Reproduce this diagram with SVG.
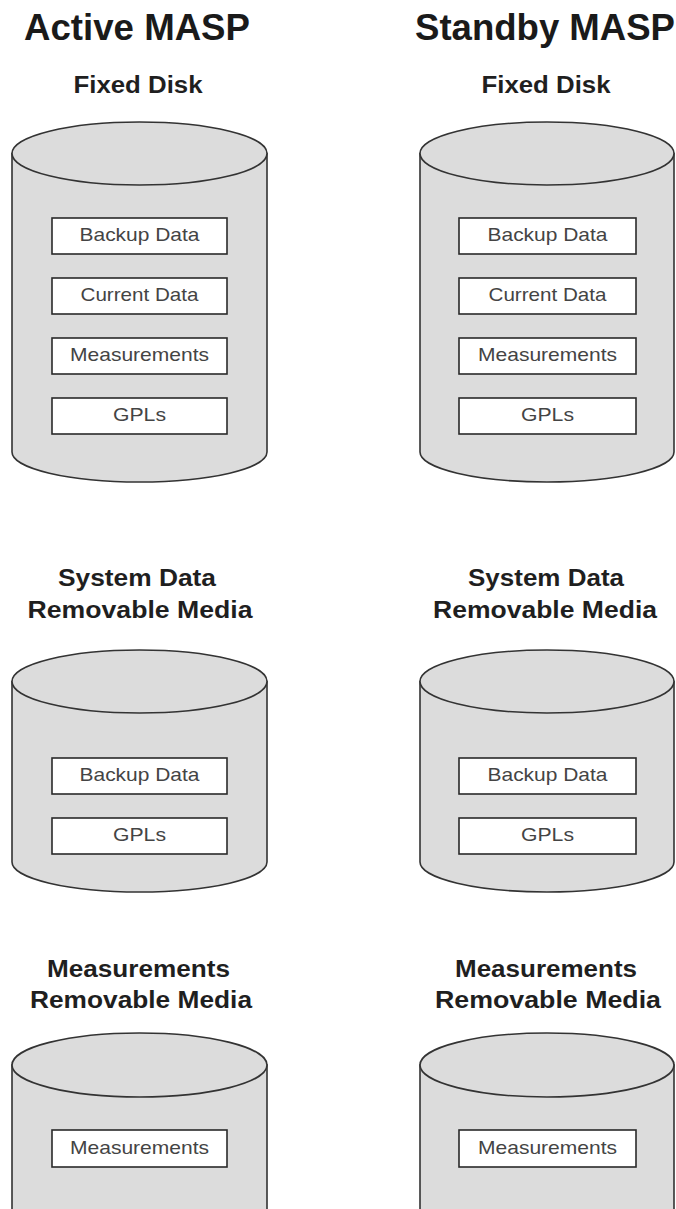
<svg xmlns="http://www.w3.org/2000/svg" width="676" height="1209" viewBox="0 0 676 1209">
<style>
.bg{fill:#ffffff}
.cyl{fill:#dcdcdc;stroke:#333;stroke-width:1.6}
.box{fill:#ffffff;stroke:#2a2a2a;stroke-width:1.6}
.h1{font-family:"Liberation Sans",Arial,sans-serif;font-weight:bold;font-size:36px;fill:#1a1a1a;text-anchor:middle}
.h2{font-family:"Liberation Sans",Arial,sans-serif;font-weight:bold;font-size:23.5px;fill:#1f1f1f;text-anchor:middle}
.bt{font-family:"Liberation Sans",Arial,sans-serif;font-size:19px;fill:#444;text-anchor:middle}
</style>
<rect class="bg" x="0" y="0" width="676" height="1209"/>

<g id="titles">
<text class="h1" x="137" y="40" textLength="226" lengthAdjust="spacingAndGlyphs">Active MASP</text>
<text class="h1" x="545" y="40" textLength="260" lengthAdjust="spacingAndGlyphs">Standby MASP</text>
</g>

<!-- Active: Fixed Disk -->
<g id="active-fixed">
<text class="h2" x="138" y="93" textLength="129" lengthAdjust="spacingAndGlyphs">Fixed Disk</text>
<path class="cyl" d="M12,153.5 L12,452 A127.5,30 0 0 0 267,452 L267,153.5 Z"/>
<ellipse class="cyl" cx="139.5" cy="153.5" rx="127.5" ry="31.5"/>
<rect class="box" x="52" y="218" width="175" height="36"/>
<text class="bt" x="139.5" y="241" textLength="120" lengthAdjust="spacingAndGlyphs">Backup Data</text>
<rect class="box" x="52" y="278" width="175" height="36"/>
<text class="bt" x="139.5" y="301" textLength="118" lengthAdjust="spacingAndGlyphs">Current Data</text>
<rect class="box" x="52" y="338" width="175" height="36"/>
<text class="bt" x="139.5" y="361" textLength="139" lengthAdjust="spacingAndGlyphs">Measurements</text>
<rect class="box" x="52" y="398" width="175" height="36"/>
<text class="bt" x="139.5" y="421" textLength="53" lengthAdjust="spacingAndGlyphs">GPLs</text>
</g>

<!-- Standby: Fixed Disk -->
<g id="standby-fixed">
<text class="h2" x="546" y="93" textLength="129" lengthAdjust="spacingAndGlyphs">Fixed Disk</text>
<path class="cyl" d="M420,153.5 L420,452 A127,30 0 0 0 674,452 L674,153.5 Z"/>
<ellipse class="cyl" cx="547" cy="153.5" rx="127" ry="31.5"/>
<rect class="box" x="459" y="218" width="177" height="36"/>
<text class="bt" x="547.5" y="241" textLength="120" lengthAdjust="spacingAndGlyphs">Backup Data</text>
<rect class="box" x="459" y="278" width="177" height="36"/>
<text class="bt" x="547.5" y="301" textLength="118" lengthAdjust="spacingAndGlyphs">Current Data</text>
<rect class="box" x="459" y="338" width="177" height="36"/>
<text class="bt" x="547.5" y="361" textLength="139" lengthAdjust="spacingAndGlyphs">Measurements</text>
<rect class="box" x="459" y="398" width="177" height="36"/>
<text class="bt" x="547.5" y="421" textLength="53" lengthAdjust="spacingAndGlyphs">GPLs</text>
</g>

<!-- Active: System Data Removable Media -->
<g id="active-system">
<text class="h2" x="137" y="586" textLength="158" lengthAdjust="spacingAndGlyphs">System Data</text>
<text class="h2" x="140" y="618" textLength="225" lengthAdjust="spacingAndGlyphs">Removable Media</text>
<path class="cyl" d="M12,681.5 L12,862 A127.5,30 0 0 0 267,862 L267,681.5 Z"/>
<ellipse class="cyl" cx="139.5" cy="681.5" rx="127.5" ry="31.5"/>
<rect class="box" x="52" y="758" width="175" height="36"/>
<text class="bt" x="139.5" y="781" textLength="120" lengthAdjust="spacingAndGlyphs">Backup Data</text>
<rect class="box" x="52" y="818" width="175" height="36"/>
<text class="bt" x="139.5" y="841" textLength="53" lengthAdjust="spacingAndGlyphs">GPLs</text>
</g>

<!-- Standby: System Data Removable Media -->
<g id="standby-system">
<text class="h2" x="546" y="586" textLength="156" lengthAdjust="spacingAndGlyphs">System Data</text>
<text class="h2" x="545" y="618" textLength="224" lengthAdjust="spacingAndGlyphs">Removable Media</text>
<path class="cyl" d="M420,681.5 L420,862 A127,30 0 0 0 674,862 L674,681.5 Z"/>
<ellipse class="cyl" cx="547" cy="681.5" rx="127" ry="31.5"/>
<rect class="box" x="459" y="758" width="177" height="36"/>
<text class="bt" x="547.5" y="781" textLength="120" lengthAdjust="spacingAndGlyphs">Backup Data</text>
<rect class="box" x="459" y="818" width="177" height="36"/>
<text class="bt" x="547.5" y="841" textLength="53" lengthAdjust="spacingAndGlyphs">GPLs</text>
</g>

<!-- Active: Measurements Removable Media -->
<g id="active-meas">
<text class="h2" x="138.5" y="977" textLength="183" lengthAdjust="spacingAndGlyphs">Measurements</text>
<text class="h2" x="141" y="1008" textLength="222" lengthAdjust="spacingAndGlyphs">Removable Media</text>
<path class="cyl" d="M12,1065 L12,1220 A127.5,30 0 0 0 267,1220 L267,1065 Z"/>
<ellipse class="cyl" cx="139.5" cy="1065" rx="127.5" ry="32"/>
<rect class="box" x="52" y="1130" width="175" height="37"/>
<text class="bt" x="139.5" y="1154" textLength="139" lengthAdjust="spacingAndGlyphs">Measurements</text>
</g>

<!-- Standby: Measurements Removable Media -->
<g id="standby-meas">
<text class="h2" x="546" y="977" textLength="182" lengthAdjust="spacingAndGlyphs">Measurements</text>
<text class="h2" x="548" y="1008" textLength="226" lengthAdjust="spacingAndGlyphs">Removable Media</text>
<path class="cyl" d="M420,1065 L420,1220 A127,30 0 0 0 674,1220 L674,1065 Z"/>
<ellipse class="cyl" cx="547" cy="1065" rx="127" ry="32"/>
<rect class="box" x="459" y="1130" width="177" height="37"/>
<text class="bt" x="547.5" y="1154" textLength="139" lengthAdjust="spacingAndGlyphs">Measurements</text>
</g>

<g id="connectors"></g>
</svg>
